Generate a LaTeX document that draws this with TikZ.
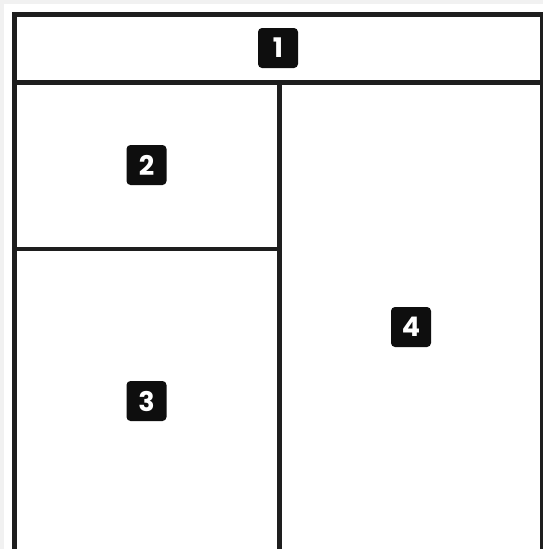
\documentclass[tikz,border=0pt]{standalone}
\usepackage{fontspec}
\setmainfont{Poppins}[BoldFont={* Bold}]
\definecolor{bggray}{HTML}{F1F1F1}
\definecolor{linecol}{HTML}{1E1E1E}
\definecolor{badgecol}{HTML}{0E0E0E}
\begin{document}
\begin{tikzpicture}[x=1pt,y=-1pt,
  frame/.style={draw=linecol,line width=5pt},
  badge/.style={fill=badgecol,text=white,rounded corners=4pt,minimum size=40pt,inner sep=0pt,font=\fontsize{27}{27}\selectfont\bfseries}]
\useasboundingbox (0,0) rectangle (543,549);
\fill[bggray] (0,0) rectangle (543,549);
\fill[white] (4,4) rectangle (543,549);
% outer frame
\draw[frame] (14.5,549) -- (14.5,14.5) -- (542,14.5) -- (542,549);
% header divider
\draw[frame] (12,82.5) -- (543,82.5);
% middle vertical
\draw[frame] (279,82.5) -- (279,549);
% left split
\draw[frame,line width=4pt] (14.5,249) -- (279,249);
% badges
\node[badge] (b1) at (278,48) {1};
\node[badge] (b2) at (146.5,165) {2};
\node[badge] (b3) at (146.5,401) {3};
\node[badge] (b4) at (411,327) {4};
\end{tikzpicture}
\end{document}
